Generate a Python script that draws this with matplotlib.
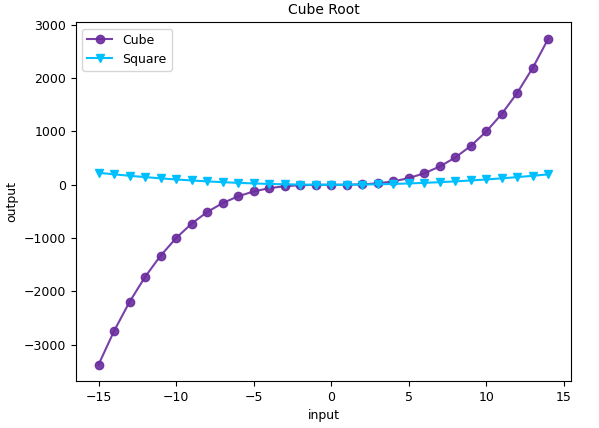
import matplotlib
matplotlib.use('Agg')
from matplotlib import pyplot as plt

# input values and the two series
inputs = [-15, -14, -13, -12, -11, -10, -9, -8, -7, -6, -5, -4, -3, -2, -1,
          0, 1, 2, 3, 4, 5, 6, 7, 8, 9, 10, 11, 12, 13, 14]
cube = [-3375, -2744, -2197, -1728, -1331, -1000, -729, -512, -343, -216,
        -125, -64, -27, -8, -1, 0, 1, 8, 27, 64, 125, 216, 343, 512, 729,
        1000, 1331, 1728, 2197, 2744]
square = [225, 196, 169, 144, 121, 100, 81, 64, 49, 36, 25, 16, 9, 4, 1,
          0, 1, 4, 9, 16, 25, 36, 49, 64, 81, 100, 121, 144, 169, 196]

fig = plt.figure(figsize=(5.99, 4.28), dpi=100)
ax = fig.add_axes([0.127, 0.11, 0.826, 0.838])

ax.plot(inputs, cube, marker='o', color='#6a2c9e', label='Cube', alpha=0.9)
ax.plot(inputs, square, marker='v', color='#00bfff', label='Square')

ax.set_title('Cube Root', fontsize=10)
ax.set_xlabel('input', fontsize=9)
ax.set_ylabel('output', fontsize=9)
ax.tick_params(labelsize=9)
ax.legend(loc='upper left', fontsize=9)

fig.savefig('out.png')
